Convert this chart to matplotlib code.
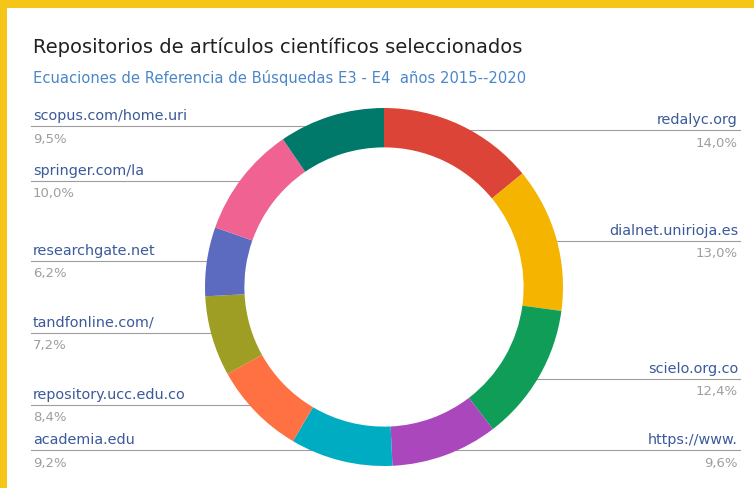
import matplotlib.pyplot as plt
import numpy as np

# datos
repos = ['redalyc.org', 'dialnet.unirioja.es', 'scielo.org.co', 'https://www.',
         'academia.edu', 'repository.ucc.edu.co', 'tandfonline.com/',
         'researchgate.net', 'springer.com/la', 'scopus.com/home.uri']
share = [14.0, 13.0, 12.4, 9.6, 9.2, 8.4, 7.2, 6.2, 10.0, 9.5]
colors = ['#DB4437', '#F4B400', '#0F9D58', '#AB47BC', '#00ACC1',
          '#FF7043', '#9E9D24', '#5C6BC0', '#F06292', '#00796B']

W, H = 754, 488
fig = plt.figure(figsize=(W / 100, H / 100), dpi=100)
fig.patch.set_facecolor('#F5C518')

# fondo blanco y capa de texto en pixeles
ov = fig.add_axes([0, 0, 1, 1])
ov.set_xlim(0, W)
ov.set_ylim(H, 0)
ov.axis('off')
ov.add_patch(plt.Rectangle((7, 8), W - 7, H - 8, facecolor='white', edgecolor='none', zorder=0))

# dona
cx, cy, r = 384, 287, 179
ax = fig.add_axes([(cx - r) / W, 1 - (cy + r) / H, 2 * r / W, 2 * r / H])
ax.pie(share, colors=colors, startangle=90, counterclock=False,
       wedgeprops=dict(width=0.22, edgecolor='none'))
ax.set_aspect('equal')
ax.set_xlim(-1, 1)
ax.set_ylim(-1, 1)

ov.text(33, 47, 'Repositorios de artículos científicos seleccionados',
        fontsize=14, color='#212121', va='center', ha='left')
ov.text(33, 78, 'Ecuaciones de Referencia de Búsquedas E3 - E4  años 2015--2020',
        fontsize=10.6, color='#4A86C8', va='center', ha='left')

# etiquetas: y de la linea guia (pixeles)
line_y = [130, 241, 379, 450, 450, 405, 333, 261, 181, 126]
side = ['r', 'r', 'r', 'r', 'l', 'l', 'l', 'l', 'l', 'l']
for name, val, ly, s in zip(repos, share, line_y, side):
    dy = ly - cy
    reach = np.sqrt(max(r * r - dy * dy, 0))
    pct = f'{val:.1f}%'.replace('.', ',')
    if s == 'r':
        x0 = cx + reach * 0.8
        ov.plot([x0, 740], [ly, ly], color='#9E9E9E', lw=0.8)
        ov.text(738, ly - 10, name, fontsize=10.4, color='#3B5A9A', ha='right', va='center')
        ov.text(738, ly + 13, pct, fontsize=9.5, color='#9E9E9E', ha='right', va='center')
    else:
        x1 = cx - reach * 0.8
        ov.plot([31, x1], [ly, ly], color='#9E9E9E', lw=0.8)
        ov.text(33, ly - 10, name, fontsize=10.4, color='#3B5A9A', ha='left', va='center')
        ov.text(33, ly + 13, pct, fontsize=9.5, color='#9E9E9E', ha='left', va='center')

fig.savefig('out.png', dpi=100, facecolor=fig.get_facecolor())
